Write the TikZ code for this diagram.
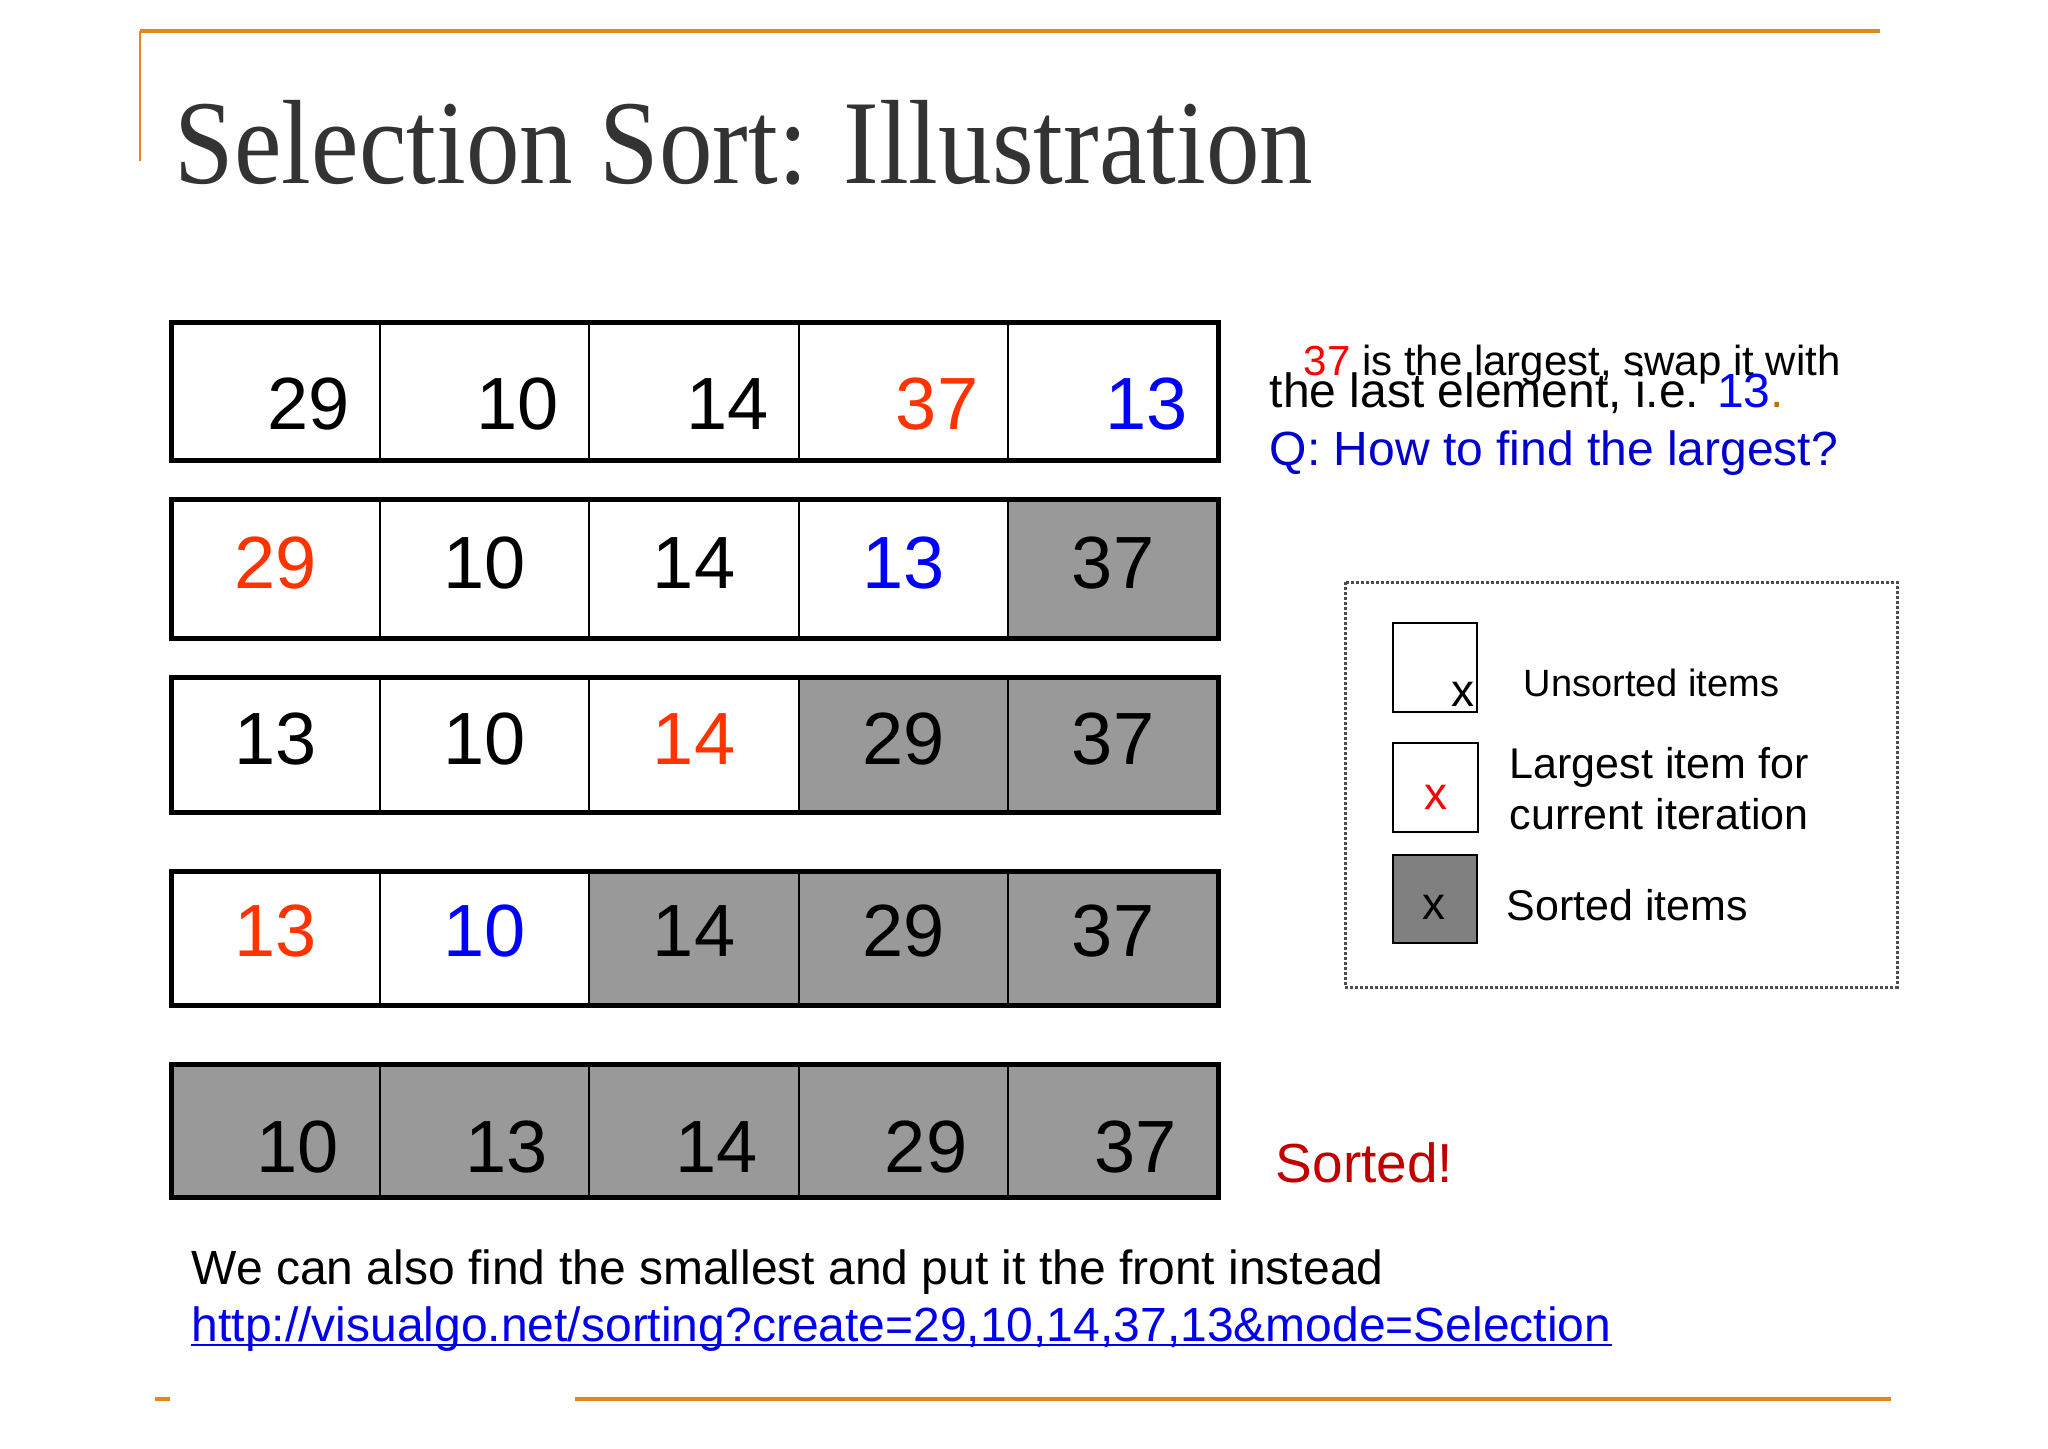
\documentclass[tikz,border=0pt]{standalone}
\usepackage{fontspec}
\setmainfont{Liberation Sans}
\newfontfamily\titlefont{Liberation Serif}
\usetikzlibrary{calc}

\definecolor{slideorange}{RGB}{232,132,30}
\definecolor{titlegray}{RGB}{51,51,51}
\definecolor{pickred}{RGB}{255,51,0}
\definecolor{swapblue}{RGB}{0,0,255}
\definecolor{donegray}{RGB}{153,153,153}
\definecolor{keygray}{RGB}{128,128,128}
\definecolor{askblue}{RGB}{0,0,204}
\definecolor{dotbrown}{RGB}{192,112,0}
\definecolor{sortedred}{RGB}{192,0,0}
\definecolor{linkblue}{RGB}{0,0,238}

\tikzset{every picture/.style={line width=0.75pt},
	rowbox/.style={line width=2.5pt},
	divider/.style={line width=0.9pt},
	done/.style={fill=donegray},
	num/.style={inner sep=0pt,font=\fontsize{37}{44}\selectfont},
	note/.style={anchor=base west,inner sep=0pt,font=\fontsize{24}{29}\selectfont},
	keybox/.style={line width=1.4pt},
	keytext/.style={anchor=base west,inner sep=0pt,font=\fontsize{21.5}{26}\selectfont},
	xmark/.style={inner sep=0pt,font=\fontsize{23}{27}\selectfont}}

\begin{document}
\begin{tikzpicture}[x=0.5pt,y=0.5pt,yscale=-1,xscale=1]
		\useasboundingbox (0,0) rectangle (2048,1448);

		%Straight Lines (slide frame)
		\draw [slideorange, line width=2.2pt] (140,31) -- (1880,31) ;
		\draw [slideorange, line width=1pt] (140,31) -- (140,161) ;
		\draw [slideorange, line width=2.2pt] (575,1399) -- (1891,1399) ;
		\draw [slideorange, line width=2.2pt] (155,1399) -- (170,1399) ;

		% Text Node
		\draw (174,183) node [anchor=base west,inner sep=0pt,text=titlegray,font=\titlefont\fontsize{53.5}{60}\selectfont] (title) {\scalebox{1}[1.12]{Selection Sort: Illustration}};

		%Shape: Rectangle (row 1)
		\draw [divider] (380,322.5) -- (380,460.5) (589,322.5) -- (589,460.5) (799,322.5) -- (799,460.5) (1008,322.5) -- (1008,460.5) ;
		\draw [rowbox] (171,322.5) rectangle (1218,460.5) ;
		%Shape: Rectangle (row 2)
		\fill [done] (1008,499.5) rectangle (1218,638) ;
		\draw [divider] (380,499.5) -- (380,638) (589,499.5) -- (589,638) (799,499.5) -- (799,638) (1008,499.5) -- (1008,638) ;
		\draw [rowbox] (171,499.5) rectangle (1218,638) ;
		%Shape: Rectangle (row 3)
		\fill [done] (799,677.5) rectangle (1218,812.5) ;
		\draw [divider] (380,677.5) -- (380,812.5) (589,677.5) -- (589,812.5) (799,677.5) -- (799,812.5) (1008,677.5) -- (1008,812.5) ;
		\draw [rowbox] (171,677.5) rectangle (1218,812.5) ;
		%Shape: Rectangle (row 4)
		\fill [done] (589,871) rectangle (1218,1005.5) ;
		\draw [divider] (380,871) -- (380,1005.5) (589,871) -- (589,1005.5) (799,871) -- (799,1005.5) (1008,871) -- (1008,1005.5) ;
		\draw [rowbox] (171,871) rectangle (1218,1005.5) ;
		%Shape: Rectangle (row 5)
		\fill [done] (171,1064.5) rectangle (1218,1197.5) ;
		\draw [divider] (380,1064.5) -- (380,1197.5) (589,1064.5) -- (589,1197.5) (799,1064.5) -- (799,1197.5) (1008,1064.5) -- (1008,1197.5) ;
		\draw [rowbox] (171,1064.5) rectangle (1218,1197.5) ;

		% Text Node (row 1)
		\draw (309,404.5) node [num] (a1) {29};
		\draw (518,404.5) node [num] (a2) {10};
		\draw (727.5,404.5) node [num] (a3) {14};
		\draw (937,404.5) node [num,text=pickred] (a4) {37};
		\draw (1146.5,404.5) node [num,text=swapblue] (a5) {13};
		% Text Node (row 2)
		\draw (275.5,563.5) node [num,text=pickred] (b1) {29};
		\draw (484.5,563.5) node [num] (b2) {10};
		\draw (694,563.5) node [num] (b3) {14};
		\draw (903.5,563.5) node [num,text=swapblue] (b4) {13};
		\draw (1113,563.5) node [num] (b5) {37};
		% Text Node (row 3)
		\draw (275.5,739.5) node [num] (c1) {13};
		\draw (484.5,739.5) node [num] (c2) {10};
		\draw (694,739.5) node [num,text=pickred] (c3) {14};
		\draw (903.5,739.5) node [num] (c4) {29};
		\draw (1113,739.5) node [num] (c5) {37};
		% Text Node (row 4)
		\draw (275.5,931.5) node [num,text=pickred] (d1) {13};
		\draw (484.5,931.5) node [num,text=swapblue] (d2) {10};
		\draw (694,931.5) node [num] (d3) {14};
		\draw (903.5,931.5) node [num] (d4) {29};
		\draw (1113,931.5) node [num] (d5) {37};
		% Text Node (row 5)
		\draw (298,1147) node [num] (e1) {10};
		\draw (507,1147) node [num] (e2) {13};
		\draw (716.5,1147) node [num] (e3) {14};
		\draw (926,1147) node [num] (e4) {29};
		\draw (1135.5,1147) node [num] (e5) {37};

		% Text Node
		\draw (1303,375) node [note,font=\fontsize{21}{25}\selectfont] (hint1) {\textcolor{red}{37} is the largest, swap it with};
		% Text Node
		\draw (1269,407) node [note] (hint2) {the last element, i.e. \textcolor{swapblue}{13}\textcolor{dotbrown}{.}};
		% Text Node
		\draw (1269,465) node [note,text=askblue] (ask) {Q: How to find the largest?};

		%Shape: Rectangle (legend)
		\draw [densely dotted, line width=1.5pt, black!70] (1345,582) rectangle (1897,987) ;
		\draw [keybox] (1393,623) rectangle (1477,712) ;
		\draw [keybox] (1393,743) rectangle (1478,832) ;
		\draw [keybox, fill=keygray] (1393,855) rectangle (1477,943) ;
		% Text Node
		\draw (1463,694) node [xmark] (k1) {x};
		\draw (1436,797) node [xmark,text=red] (k2) {x};
		\draw (1434,907) node [xmark] (k3) {x};
		% Text Node
		\draw (1523,696) node [keytext,font=\fontsize{19}{23}\selectfont] (unsorted) {Unsorted items};
		\draw (1509,778) node [keytext] (largest) {Largest item for};
		\draw (1509,829) node [keytext] (current) {current iteration};
		\draw (1506,920) node [keytext] (sorted) {Sorted items};

		% Text Node
		\draw (1275,1182) node [note,text=sortedred,font=\fontsize{27.5}{33}\selectfont] (done) {Sorted!};
		% Text Node
		\draw (191,1284) node [note] (alt) {We can also find the smallest and put it the front instead};
		% Text Node
		\draw (191,1341) node [note,text=linkblue] (url) {http://visualgo.net/sorting?create=29,10,14,37,13\&mode=Selection};
		\draw [linkblue, line width=1.2pt] ($(url.base west)+(0,4)$) -- ($(url.base east)+(0,4)$) ;

\end{tikzpicture}
\end{document}
